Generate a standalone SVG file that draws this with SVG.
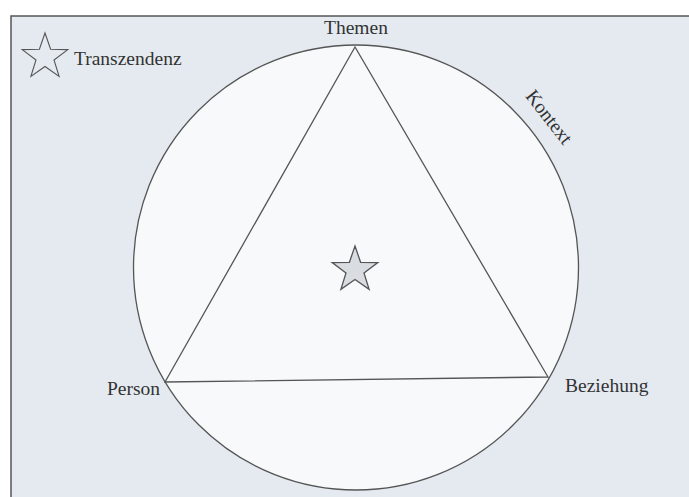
<svg xmlns="http://www.w3.org/2000/svg" width="689" height="497" viewBox="0 0 689 497">
<style>
.lbl{font-family:"Liberation Serif","DejaVu Serif",serif;font-size:19.5px;fill:#333}
.ln{stroke:#555;stroke-width:1.3;fill:none}
</style>
<defs>
<path id="star" d="M0,-24 L5.6,-7.7 L22.8,-7.4 L9,3 L14.1,19.4 L0,9.5 L-14.1,19.4 L-9,3 L-22.8,-7.4 L-5.6,-7.7 Z"/>
</defs>
<rect x="0" y="0" width="689" height="497" fill="#ffffff"/>
<rect x="11" y="16" width="700" height="500" fill="#e5eaf0" stroke="#555" stroke-width="1.5"/>
<g id="kontext">
<circle cx="356" cy="267.5" r="222.5" fill="#f7f9fb" stroke="#555" stroke-width="1.3"/>
<text class="lbl" transform="translate(544,121) rotate(52)" text-anchor="middle">Kontext</text>
</g>
<g id="connectors">
<polygon class="ln" points="355,47 165,382 548,377"/>
</g>
<g id="themen"><text class="lbl" x="356" y="34" text-anchor="middle">Themen</text></g>
<g id="person"><text class="lbl" x="160" y="395" text-anchor="end">Person</text></g>
<g id="beziehung"><text class="lbl" x="565" y="392">Beziehung</text></g>
<g id="center-star"><use href="#star" transform="translate(355,270)" fill="#d9dde2" stroke="#555" stroke-width="1.3"/></g>
<g id="transzendenz">
<use href="#star" transform="translate(45,57)" fill="none" stroke="#555" stroke-width="1.1"/>
<text class="lbl" x="74" y="65">Transzendenz</text>
</g>
</svg>
